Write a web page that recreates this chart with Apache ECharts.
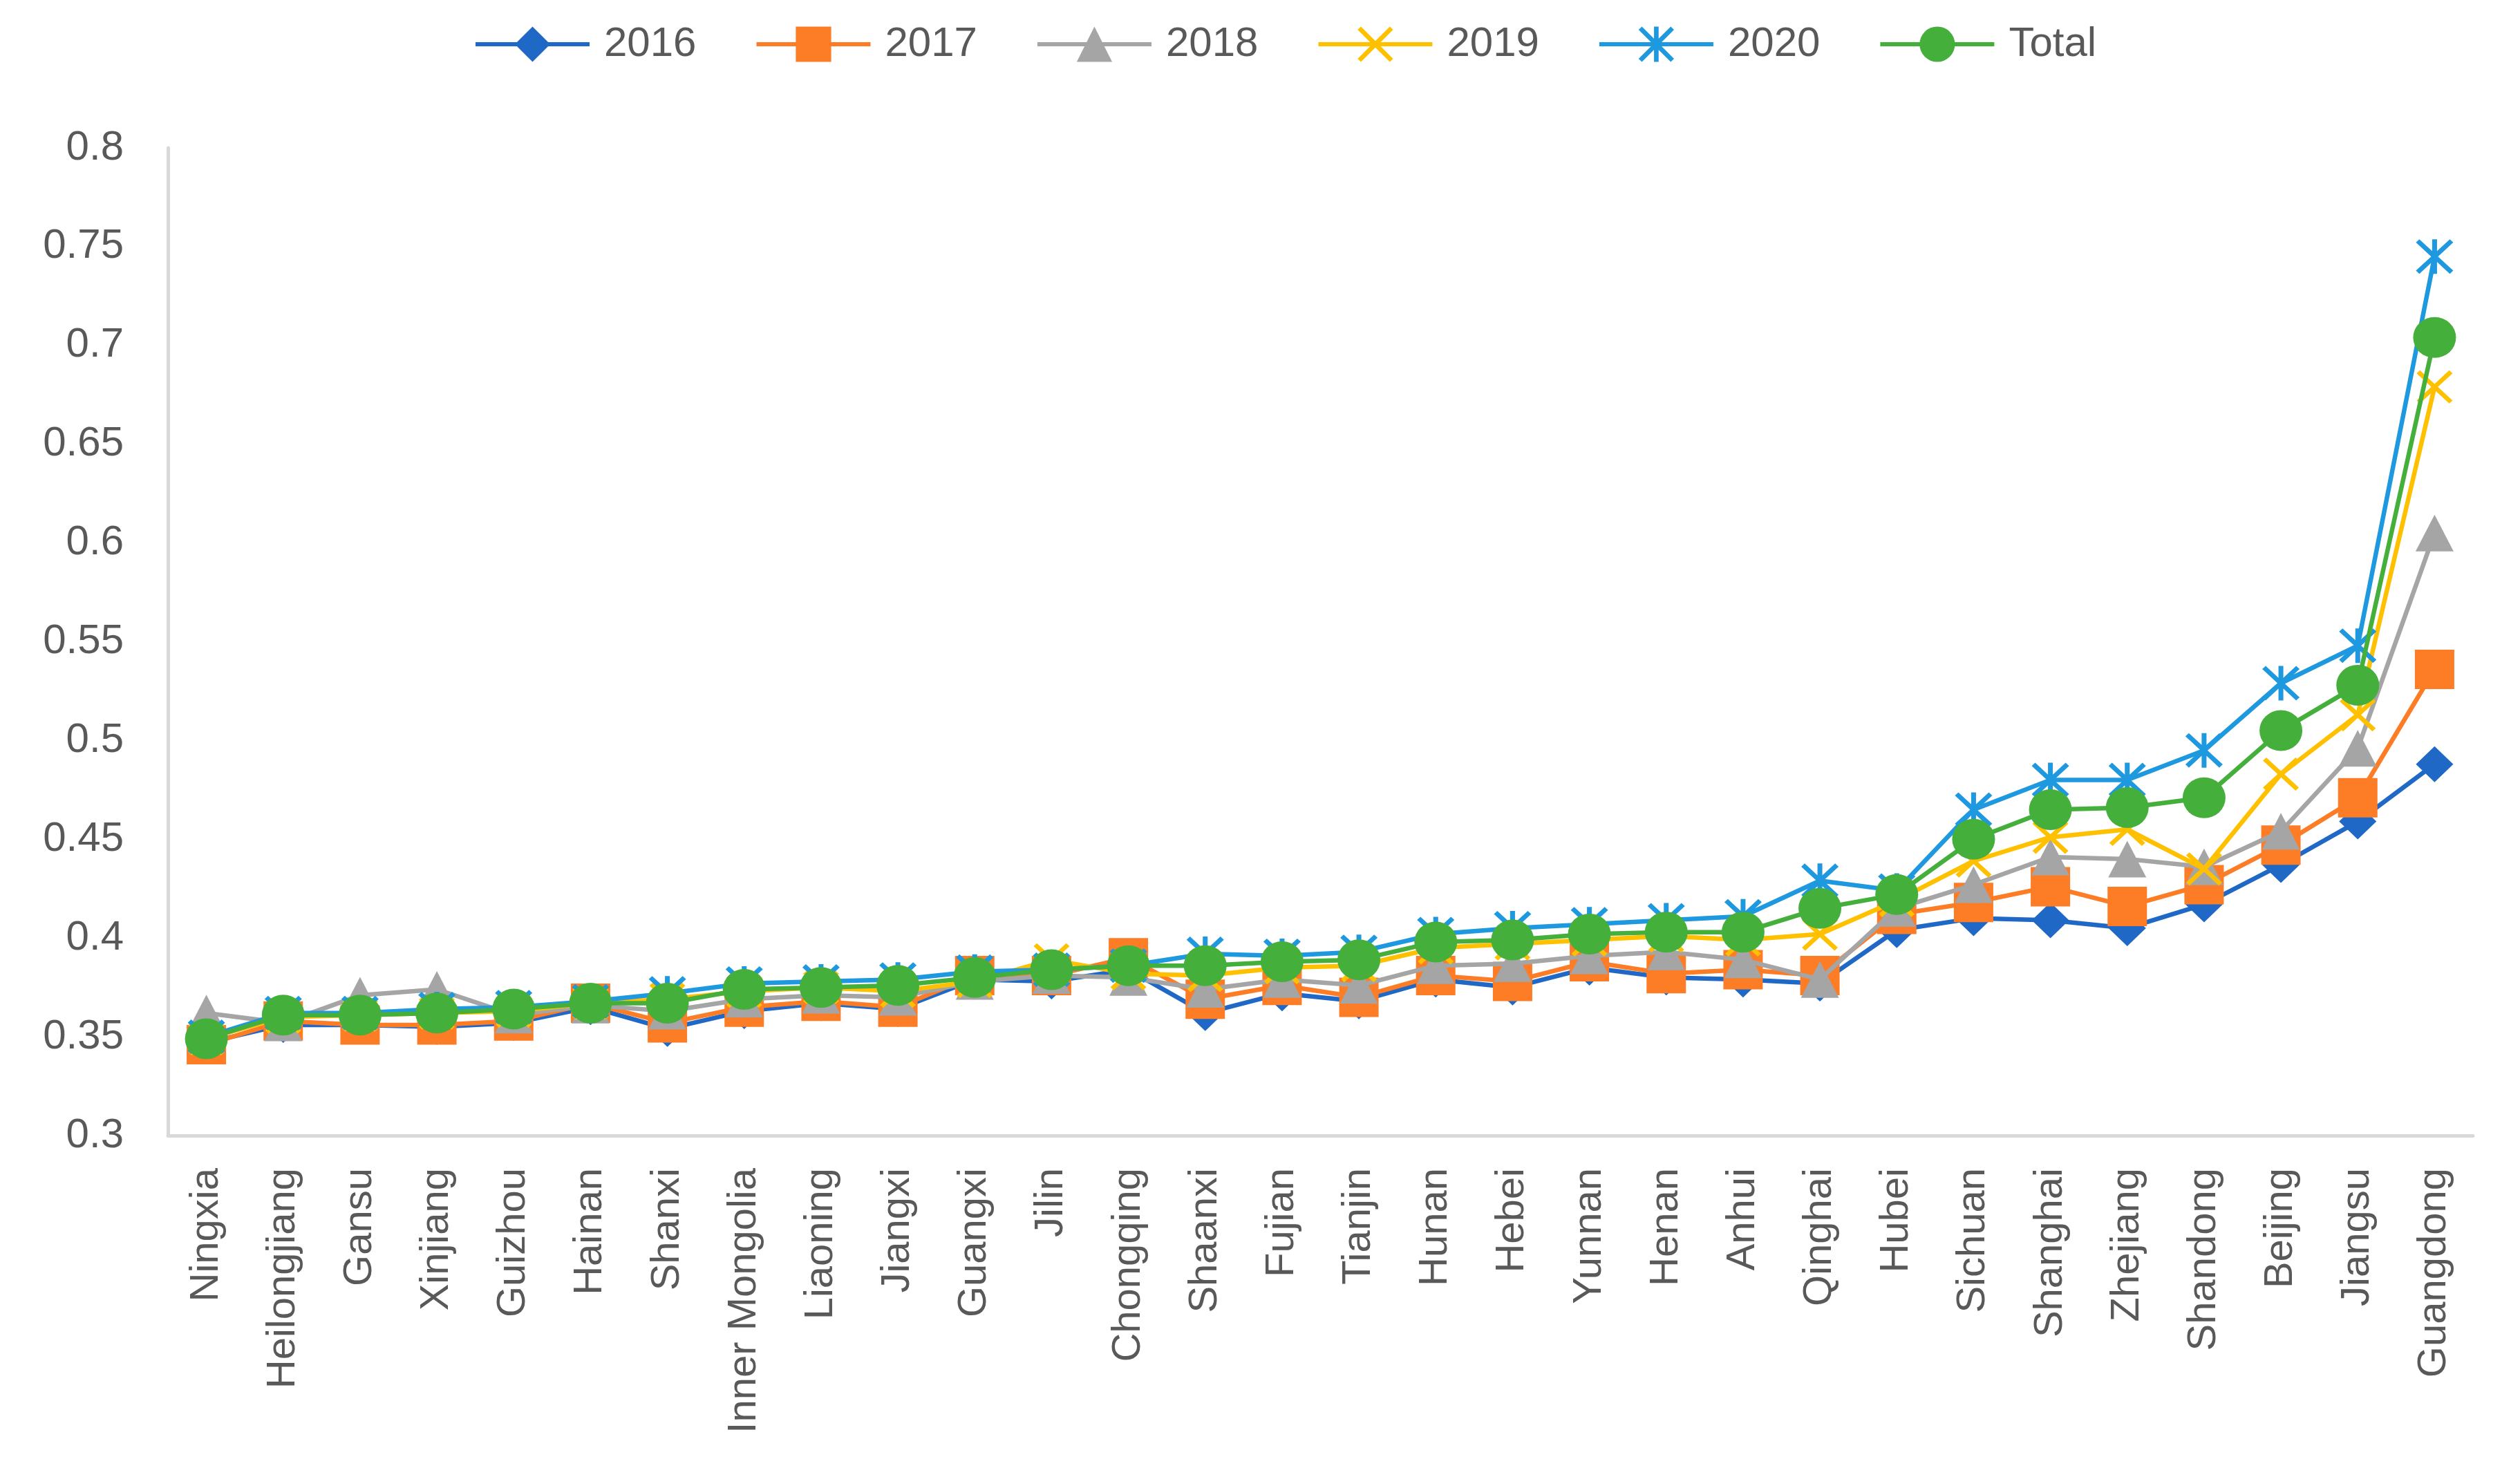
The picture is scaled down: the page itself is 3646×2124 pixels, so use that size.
<!DOCTYPE html>
<html>
<head>
<meta charset="utf-8">
<script src="https://cdn.jsdelivr.net/npm/echarts@6/dist/echarts.min.js"></script>
<style>
html,body{margin:0;padding:0;background:#fff;}
#chart{width:3646px;height:2124px;}
</style>
</head>
<body>
<div id="chart"></div>
<script>
const categories = ["Ningxia","Heilongjiang","Gansu","Xinjiang","Guizhou","Hainan","Shanxi","Inner Mongolia","Liaoning","Jiangxi","Guangxi","Jilin","Chongqing","Shaanxi","Fujian","Tianjin","Hunan","Hebei","Yunnan","Henan","Anhui","Qinghai","Hubei","Sichuan","Shanghai","Zhejiang","Shandong","Beijing","Jiangsu","Guangdong"];

const y2016 = [0.347,0.356,0.356,0.355,0.357,0.365,0.354,0.363,0.367,0.364,0.379,0.378,0.384,0.362,0.372,0.368,0.379,0.375,0.385,0.380,0.379,0.377,0.404,0.410,0.409,0.405,0.417,0.437,0.459,0.488];
const y2017 = [0.346,0.358,0.356,0.356,0.358,0.367,0.357,0.365,0.368,0.365,0.381,0.381,0.390,0.369,0.376,0.370,0.381,0.378,0.388,0.382,0.384,0.381,0.412,0.418,0.426,0.416,0.427,0.447,0.471,0.536];
const y2018 = [0.362,0.357,0.371,0.374,0.361,0.366,0.363,0.369,0.371,0.370,0.378,0.381,0.380,0.374,0.379,0.376,0.386,0.387,0.391,0.393,0.389,0.379,0.415,0.427,0.441,0.440,0.436,0.454,0.496,0.605];
const y2019 = [0.349,0.360,0.361,0.362,0.363,0.367,0.369,0.373,0.375,0.373,0.378,0.389,0.382,0.381,0.385,0.386,0.395,0.397,0.399,0.401,0.399,0.402,0.419,0.439,0.451,0.455,0.435,0.483,0.513,0.679];
const y2020 = [0.350,0.362,0.362,0.364,0.365,0.368,0.372,0.377,0.378,0.379,0.383,0.384,0.386,0.392,0.391,0.393,0.402,0.405,0.407,0.409,0.411,0.429,0.424,0.465,0.480,0.480,0.495,0.529,0.548,0.745];
const yTotal = [0.349,0.361,0.361,0.362,0.364,0.367,0.367,0.374,0.375,0.376,0.380,0.384,0.386,0.386,0.388,0.389,0.398,0.399,0.402,0.403,0.403,0.415,0.422,0.450,0.465,0.466,0.471,0.505,0.528,0.704];

const seriesNames = ["2016","2017","2018","2019","2020","Total"];
const seriesData = [y2016,y2017,y2018,y2019,y2020,yTotal];
const colors = ["#1F68C6","#FD7C26","#A5A5A5","#FFC000","#1E98DE","#45AF3C"];

const xPath = 'path://M0,9.2L9.2,0L50,40.8L90.8,0L100,9.2L59.2,50L100,90.8L90.8,100L50,59.2L9.2,100L0,90.8L40.8,50Z';
const starPath = 'path://M0,9.2L9.2,0L50,40.8L90.8,0L100,9.2L59.2,50L100,90.8L90.8,100L50,59.2L9.2,100L0,90.8L40.8,50Z M43.5,0L56.5,0L56.5,100L43.5,100Z';
const symbols = ['diamond','rect','triangle',xPath,starPath,'circle'];
const symbolSizes = [[54,52],57,[55,53],[52,48],[54,50],[62,59]];

const fontFamily = '"Liberation Sans", Arial, sans-serif';

const chart = echarts.init(document.getElementById('chart'));
chart.setOption({
  backgroundColor: '#ffffff',
  animation: false,
  color: colors,
  legend: {
    top: 29,
    left: 680,
    itemWidth: 165,
    itemHeight: 64,
    itemGap: 84,
    lineStyle: { width: 6 },
    textStyle: { fontFamily: fontFamily, fontSize: 60, color: '#595959', padding: [0,0,0,16] },
    data: seriesNames
  },
  grid: { left: 243, right: 68, top: 214, bottom: 481, containLabel: false },
  xAxis: {
    type: 'category',
    data: categories,
    boundaryGap: true,
    axisLine: { show: true, lineStyle: { color: '#D9D9D9', width: 5 } },
    axisTick: { show: false },
    axisLabel: { interval: 0, rotate: 90, margin: 47, fontFamily: fontFamily, fontSize: 58, color: '#595959' },
    splitLine: { show: false }
  },
  yAxis: {
    type: 'value',
    min: 0.3,
    max: 0.8,
    interval: 0.05,
    axisLine: { show: true, lineStyle: { color: '#D9D9D9', width: 5 } },
    axisTick: { show: false },
    splitLine: { show: false },
    axisLabel: { margin: 64, fontFamily: fontFamily, fontSize: 60, color: '#595959',
      formatter: v => String(Math.round(v*100)/100) }
  },
  series: seriesNames.map((n,i) => ({
    name: n,
    type: 'line',
    data: seriesData[i],
    symbol: symbols[i],
    symbolSize: symbolSizes[i],
    showAllSymbol: true,
    lineStyle: { width: 6.5, color: colors[i] },
    itemStyle: { color: colors[i] },
    z: 2 + i
  }))
});
</script>
</body>
</html>
